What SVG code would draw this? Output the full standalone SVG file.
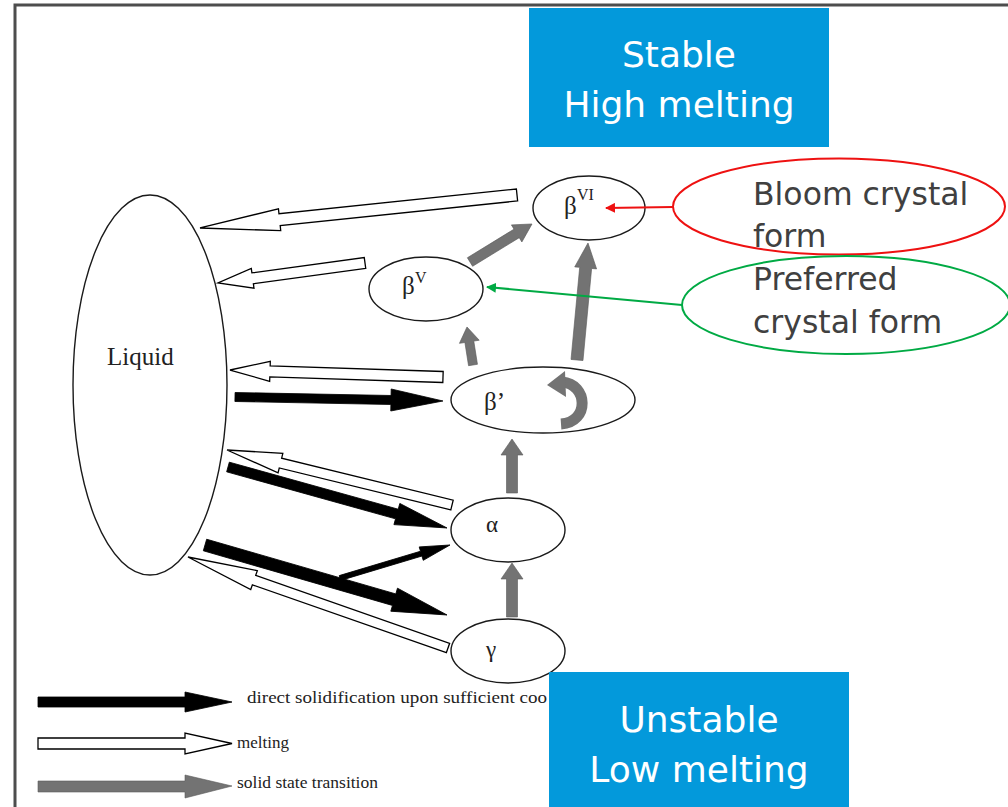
<svg xmlns="http://www.w3.org/2000/svg" width="1008" height="807" viewBox="0 0 1008 807">
<style>
.node{fill:#fff;stroke:#1a1a1a;stroke-width:1.4}
.gk{font-family:"Liberation Serif",serif;fill:#222}
.blk{fill:#000;stroke:#000;stroke-width:0.8}
.wht{fill:#fff;stroke:#000;stroke-width:1.3;stroke-linejoin:miter}
.gry{fill:#737373;stroke:#5a5a5a;stroke-width:0.6}
.box{fill:#0399DB}
.bt{font-family:"DejaVu Sans",Verdana,sans-serif;font-size:36px;fill:#fff;text-anchor:middle}
.ct{font-family:"DejaVu Sans",Verdana,sans-serif;font-size:31.5px;fill:#404040}
.lg{font-family:"Liberation Serif",serif;font-size:17px;fill:#222}
</style>
<defs>
<marker id="redHead" markerWidth="10" markerHeight="10" refX="9" refY="5" orient="auto" markerUnits="userSpaceOnUse" viewBox="0 0 10 10"><path d="M0,0 L10,5 L0,10 Z" fill="#ee1111"/></marker>
<marker id="greenHead" markerWidth="10" markerHeight="10" refX="9" refY="5" orient="auto" markerUnits="userSpaceOnUse" viewBox="0 0 10 10"><path d="M0,0 L10,5 L0,10 Z" fill="#00aa44"/></marker>
</defs>
<rect x="0" y="0" width="1008" height="807" fill="#fff"/>
<rect x="15" y="5" width="1010" height="820" fill="none" stroke="#4d4d4d" stroke-width="3"/>

<g id="liquid">
<ellipse class="node" cx="150" cy="385" rx="77" ry="190"/>
<text class="gk" x="107" y="365" font-size="25">Liquid</text>
</g>
<g id="betaVI">
<ellipse class="node" cx="589" cy="208" rx="56" ry="32"/>
<text class="gk" x="564" y="214" font-size="25">β</text>
<text class="gk" x="577" y="200" font-size="16">VI</text>
</g>
<g id="betaV">
<ellipse class="node" cx="426" cy="289" rx="57" ry="32"/>
<text class="gk" x="402" y="294" font-size="25">β</text>
<text class="gk" x="415" y="283" font-size="16">V</text>
</g>
<g id="betaPrime">
<ellipse class="node" cx="543" cy="400" rx="92" ry="33"/>
<text class="gk" x="484" y="410" font-size="25">β’</text>
<path d="M562,382 C588,384 590,422 561,424" fill="none" stroke="#737373" stroke-width="11"/>
<polygon points="565,371 547,385 566,397" fill="#737373"/>
</g>
<g id="alpha">
<ellipse class="node" cx="508" cy="530" rx="57" ry="32"/>
<text class="gk" x="486" y="532" font-size="23">α</text>
</g>
<g id="gamma">
<ellipse class="node" cx="508" cy="651" rx="57" ry="32"/>
<text class="gk" x="486" y="657" font-size="23">γ</text>
</g>

<g id="connectors">
<path class="wht" d="M0,-6 H238.7 V-11 L318.7,0 L238.7,11 V6 H0Z" transform="translate(517,195) rotate(174.06)"/>
<path class="wht" d="M0,-5.5 H113.4 V-10 L148.4,0 L113.4,10 V5.5 H0Z" transform="translate(365,263) rotate(172.25)"/>
<path class="wht" d="M0,-5.5 H173.1 V-10 L213.1,0 L173.1,10 V5.5 H0Z" transform="translate(443,377) rotate(181.88)"/>
<path class="wht" d="M0,-5 H176.6 V-10 L231.6,0 L176.6,10 V5 H0Z" transform="translate(452,505) rotate(193.74)"/>
<path class="wht" d="M0,-5 H205.5 V-10 L275.5,0 L205.5,10 V5 H0Z" transform="translate(448,648) rotate(199.29)"/>
<path class="blk" d="M0,-4.5 H156 V-11 L208,0 L156,11 V4.5 H0Z" transform="translate(235,397) rotate(1.1)"/>
<path class="blk" d="M0,-5 H175.3 V-11 L227.3,0 L175.3,11 V5 H0Z" transform="translate(228,467) rotate(15.56)"/>
<path class="blk" d="M0,-6 H196.9 V-12 L251.9,0 L196.9,12 V6 H0Z" transform="translate(205,545) rotate(16.13)"/>
<path class="blk" d="M0,-2.5 H84.8 V-7 L114.8,0 L84.8,7 V2.5 H0Z" transform="translate(340,578) rotate(-16.7)"/>
<path class="gry" d="M0,-5.5 H38 V-11 L54,0 L38,11 V5.5 H0Z" transform="translate(512,617) rotate(-90)"/>
<path class="gry" d="M0,-5.5 H38 V-11 L54,0 L38,11 V5.5 H0Z" transform="translate(512,493) rotate(-90)"/>
<path class="gry" d="M0,-4.5 H23.5 V-10 L38.5,0 L23.5,10 V4.5 H0Z" transform="translate(473,365) rotate(-98.97)"/>
<path class="gry" d="M0,-6 H92.5 V-11 L117.5,0 L92.5,11 V6 H0Z" transform="translate(577,360) rotate(-84.63)"/>
<path class="gry" d="M0,-5 H54.7 V-10 L72.7,0 L54.7,10 V5 H0Z" transform="translate(470,262) rotate(-31.5)"/>
<line x1="673" y1="207" x2="606" y2="208" stroke="#ee1111" stroke-width="2" marker-end="url(#redHead)"/>
<line x1="682" y1="305" x2="487" y2="287" stroke="#00aa44" stroke-width="2" marker-end="url(#greenHead)"/>
</g>

<g id="legend">
<path class="blk" d="M38,697 H185 V692 L232,702 L185,712 V707 H38Z"/>
<path class="wht" d="M38,738 H185 V733 L232,743.5 L185,754 V749 H38Z"/>
<path class="gry" d="M38,781 H185 V775 L232,786 L185,798 V792 H38Z"/>
<text class="lg" x="247" y="703" textLength="300" lengthAdjust="spacingAndGlyphs">direct solidification upon sufficient coo</text>
<text class="lg" x="237" y="748">melting</text>
<text class="lg" x="237" y="788" textLength="141" lengthAdjust="spacingAndGlyphs">solid state transition</text>
</g>

<g id="stable">
<rect class="box" x="529" y="8" width="300" height="139"/>
<text class="bt" x="679" y="67">Stable</text>
<text class="bt" x="679" y="117">High melting</text>
</g>
<g id="unstable">
<rect class="box" x="549" y="672" width="300" height="140"/>
<text class="bt" x="699" y="732">Unstable</text>
<text class="bt" x="699" y="782">Low melting</text>
</g>
<g id="bloom">
<ellipse cx="839" cy="206.5" rx="166" ry="48" fill="none" stroke="#ee1111" stroke-width="2"/>
<text class="ct" x="753" y="205">Bloom crystal</text>
<text class="ct" x="753" y="247">form</text>
</g>
<g id="preferred">
<ellipse cx="846" cy="305" rx="164" ry="49" fill="none" stroke="#00aa44" stroke-width="2"/>
<text class="ct" x="753" y="290">Preferred</text>
<text class="ct" x="753" y="333">crystal form</text>
</g>
</svg>
